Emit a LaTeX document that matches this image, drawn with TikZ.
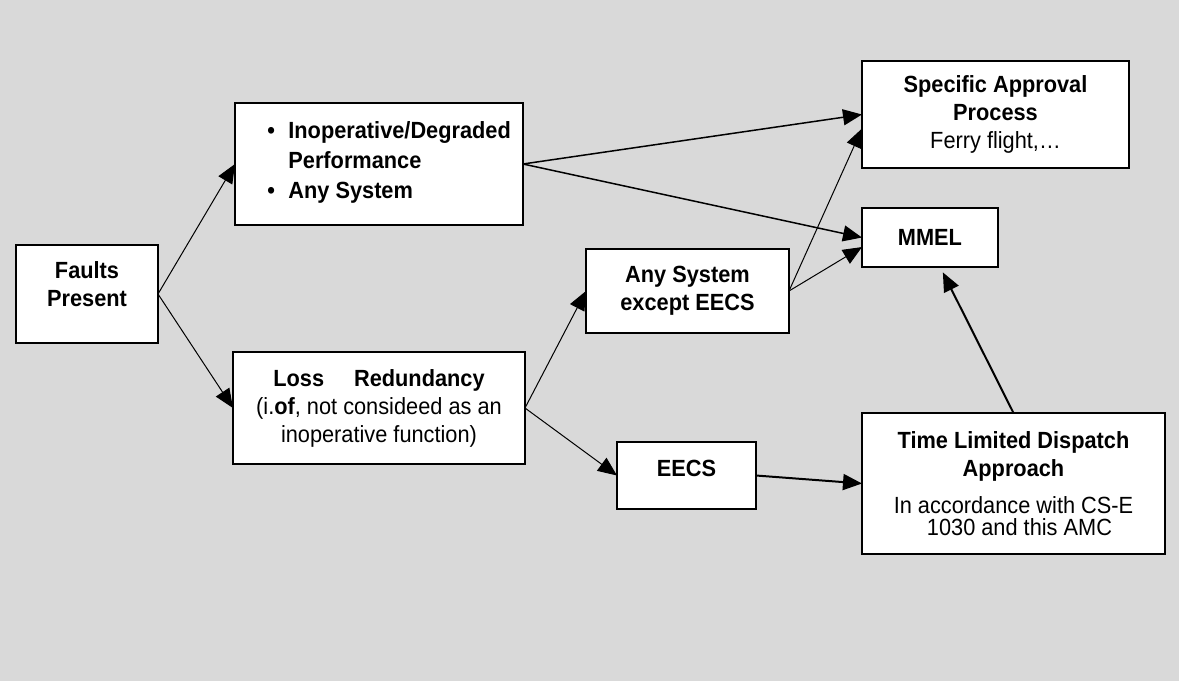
\documentclass[tikz,border=0pt]{standalone}
\usepackage{fontspec}
\setmainfont[FakeStretch=0.93]{Liberation Sans}
\usetikzlibrary{arrows.meta}
\definecolor{bggray}{HTML}{D9D9D9}
\newcommand{\itembul}{\makebox[10.5pt][l]{\textbullet}}

\begin{document}
\begin{tikzpicture}[x=0.5pt,y=-0.5pt,
	box/.style={draw,fill=white,line width=0.85pt,inner sep=0,outer sep=0,align=center,font=\bfseries\fontsize{11.7}{14}\selectfont},
	lbl/.style={inner sep=0,align=center,font=\bfseries\fontsize{11.7}{14}\selectfont},
	conn/.style={line width=0.5pt,-{Triangle[length=9.5pt,width=8pt]}},
	connmid/.style={line width=0.75pt,-{Triangle[length=9.5pt,width=8pt]}},
	connbold/.style={line width=1pt,-{Triangle[length=9.5pt,width=8pt]}}]
	\useasboundingbox[fill=bggray] (0,0) rectangle (1179,681);
	\node[box,minimum width=71pt,minimum height=49pt] (faults) at (87,294) {};
	\node[lbl] (faultstxt) at (87,284) {Faults\\Present};
	\node[box,minimum width=144pt,minimum height=61pt] (inop) at (379,164) {};
	\node[lbl,align=left,anchor=west,font=\bfseries\fontsize{11.7}{15}\selectfont] (inoptxt) at (267,162) {\itembul Inoperative/Degraded\\\hspace*{10.5pt}Performance\\\itembul Any System};
	\node[box,minimum width=146pt,minimum height=56pt] (loss) at (379,408) {Loss\hspace{15pt}Redundancy\\\textmd{(i.\textbf{of}, not consideed as an}\\\textmd{inoperative function)}};
	\node[box,minimum width=101.5pt,minimum height=42pt] (anysys) at (687.5,291) {Any System\\except EECS};
	\node[box,minimum width=69.5pt,minimum height=33.5pt] (eecs) at (686.5,475.5) {};
	\node[lbl] (eecstxt) at (686.5,468) {EECS};
	\node[box,minimum width=133.5pt,minimum height=53.5pt] (specific) at (995.5,114.5) {Specific Approval\\Process\\\textmd{Ferry flight,\textellipsis}};
	\node[box,minimum width=68pt,minimum height=29.5pt] (mmel) at (930,237.5) {MMEL};
	\node[box,minimum width=151.5pt,minimum height=70.5pt] (timeld) at (1013.5,483.5) {Time Limited Dispatch\\Approach\\[4.5pt]\textmd{In accordance with CS-E}\\[-3pt]\textmd{\hspace*{6pt}1030 and this AMC}};
	\draw[conn] (faults.east) -- (inop.west);
	\draw[conn] (faults.east) -- (loss.west);
	\draw[connmid] (inop.east) -- (specific.west);
	\draw[connmid] (inop.east) -- (mmel.west);
	\draw[conn] (loss.east) -- (anysys.west);
	\draw[conn] (loss.east) -- (eecs.west);
	\draw[conn] (anysys.east) -- (specific.-174);
	\draw[conn] (anysys.east) -- (mmel.-172);
	\draw[connbold] (eecs.east) -- (timeld.west);
	\draw[connbold,shorten >=3pt] (timeld.north) -- (mmel.-71);
\end{tikzpicture}
\end{document}
